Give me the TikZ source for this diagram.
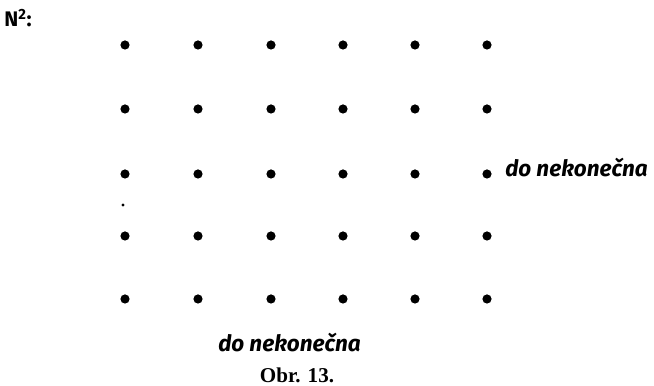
\documentclass[tikz,border=0pt]{standalone}
\usepackage{fontspec}
\setmainfont{Liberation Serif}
\setsansfont{Fira Sans}
\tikzset{
  dot/.style={circle, fill=black, inner sep=0pt, minimum size=0.23cm},
  speck/.style={circle, fill=black, inner sep=0pt, minimum size=0.08cm},
  infty/.style={font=\sffamily\bfseries\itshape\fontsize{16}{19}\selectfont, inner sep=0pt},
  setname/.style={font=\sffamily\bfseries\fontsize{15}{18}\selectfont, inner sep=0pt},
  caption/.style={font=\rmfamily\bfseries\fontsize{15}{18}\selectfont, inner sep=0pt}
}

\begin{document}
\begin{tikzpicture}[x=0.025cm, y=-0.025cm]
\useasboundingbox (0,0) rectangle (654,386);

\node[setname, anchor=west] (title) at (4,18) {N\textsuperscript{2}:};

% lattice of points
\foreach \c/\x in {1/125,2/198,3/271,4/343,5/415,6/487} {
  \foreach \r/\y in {1/45,2/109,3/174,4/236,5/299} {
    \node[dot] (p\c\r) at (\x,\y) {};
  }
}
\node[speck] (speck) at (123,205) {};

\node[infty, anchor=west] (right) at (505,168) {do nekonečna};
\node[infty, anchor=west] (below) at (218,343) {do nekonečna};
\node[caption] (obr) at (297,375) {Obr. 13.};

\end{tikzpicture}
\end{document}
